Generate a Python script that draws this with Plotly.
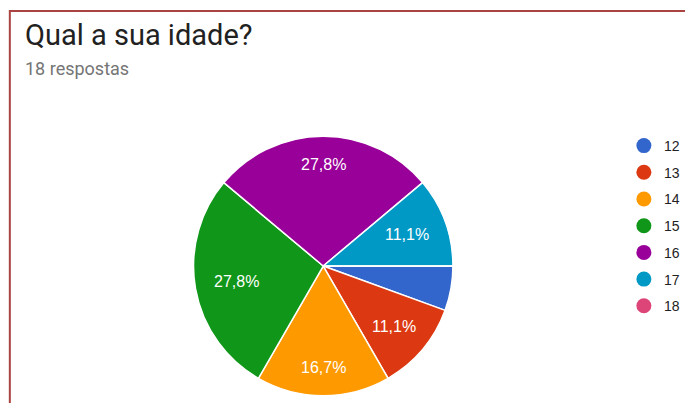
import math
import plotly.graph_objects as go

# Survey answers: age -> number of responses
ages = ["12", "13", "14", "15", "16", "17", "18"]
counts = [1, 2, 3, 5, 5, 2, 0]
colors = ["#3366cc", "#dc3912", "#ff9900", "#109618", "#990099", "#0099c6", "#dd4477"]

title_text = "Qual a sua idade?"
total = sum(counts)
subtitle_text = f"{total} respostas"

W, H = 685, 403


def pct_label(v):
    share = v / total * 100
    # small slices carry no label
    if share < 8:
        return ""
    return f"{share:.1f}".replace(".", ",") + "%"


fig = go.Figure()

# pie centre and radius in pixels
cx, cy, r = 329, 266, 132
fig.add_trace(go.Pie(
    labels=ages,
    values=counts,
    textinfo="none",
    sort=False,
    direction="clockwise",
    rotation=90,
    marker=dict(colors=colors, line=dict(color="white", width=1.5)),
    showlegend=False,
    hoverinfo="label+value+percent",
    domain=dict(x=[(cx - r) / W, (cx + r) / W],
                y=[(H - cy - r) / H, (H - cy + r) / H]),
))

# percentage labels placed on each slice's mid-angle
# (slices run clockwise starting at 3 o'clock)
labels_ann = []
acc = 0
for v in counts:
    mid = (acc + v / 2) / total
    acc += v
    txt = pct_label(v)
    if not txt:
        continue
    ang = -2 * math.pi * mid
    k = 0.68 + 0.09 * math.sin(ang) ** 2
    px = cx + k * r * math.cos(ang)
    py = cy - k * r * math.sin(ang)
    labels_ann.append(dict(
        text=txt, xref="paper", yref="paper",
        x=px / W, y=1 - py / H, xanchor="center", yanchor="middle",
        showarrow=False,
        font=dict(family="Arial", size=16, color="white"),
    ))

# legend entries with round markers
for age, col in zip(ages, colors):
    fig.add_trace(go.Scatter(
        x=[None], y=[None], mode="markers", name=age, legendgroup=age,
        marker=dict(symbol="circle", size=15, color=col),
    ))

fig.update_layout(
    width=W, height=H,
    margin=dict(l=0, r=0, t=0, b=0),
    paper_bgcolor="white",
    plot_bgcolor="white",
    xaxis=dict(visible=False),
    yaxis=dict(visible=False),
    legend=dict(
        x=635 / W, y=1 - 130 / H, xanchor="left", yanchor="top",
        font=dict(family="Arial", size=14, color="#222222"),
        bgcolor="rgba(0,0,0,0)",
        tracegroupgap=5.5,
        itemclick=False,
    ),
    shapes=[dict(
        type="rect", xref="paper", yref="paper",
        x0=10 / W, x1=1.05, y0=-0.05, y1=1 - 11 / H,
        line=dict(color="#a94442", width=2),
    )],
    annotations=[
        dict(text=title_text, xref="paper", yref="paper",
             x=23 / W, y=1 - 16 / H, xanchor="left", yanchor="top",
             showarrow=False,
             font=dict(family="Roboto", size=29, color="#212121")),
        dict(text=subtitle_text, xref="paper", yref="paper",
             x=23 / W, y=1 - 56 / H, xanchor="left", yanchor="top",
             showarrow=False,
             font=dict(family="Roboto", size=18, color="#757575")),
    ] + labels_ann,
)

fig.write_html("out.html")
